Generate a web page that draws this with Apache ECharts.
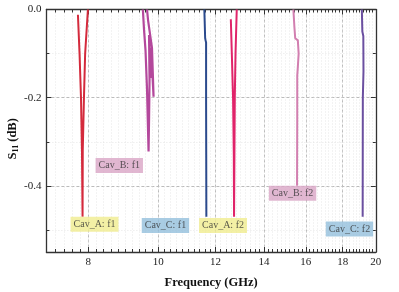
<!DOCTYPE html>
<html><head><meta charset="utf-8">
<script src="https://cdn.jsdelivr.net/npm/echarts@6/dist/echarts.min.js"></script>
<style>html,body{margin:0;padding:0;background:#fff}#c{width:399px;height:292px}</style>
</head><body><div id="c"></div>
<script>
// Tick labels
const xTickLabels = [8, 10, 12, 14, 16, 18, 20];
const yTickLabels = [0, -0.2, -0.4];
const yMinorTicks = [-0.1, -0.3, -0.5];

// Series values (frequency GHz, S11 dB)
const cavA_f1_freq = [7.74, 7.78, 7.816, 7.84, 7.855, 7.86, 7.89, 7.92, 7.99];
const cavA_f1_s11  = [-0.012, -0.1, -0.2, -0.32, -0.47, -0.32, -0.2, -0.1, 0.0];

const cavB_f1_freq = [9.52, 9.555, 9.60, 9.647, 9.694, 9.709, 9.724, 9.709, 9.756, 9.772, 9.85, 9.80, 9.678, 9.647];
const cavB_f1_s11  = [0.0, -0.046, -0.092, -0.182, -0.322, -0.25, -0.159, -0.058, -0.155, -0.087, -0.198, -0.087, -0.024, 0.0];

const cavC_f1_freq = [11.58, 11.61, 11.625, 11.645, 11.645, 11.65, 11.655];
const cavC_f1_s11  = [0.0, -0.065, -0.07, -0.075, -0.2, -0.33, -0.47];

const cavA_f2_freq = [12.60, 12.64, 12.69, 12.72, 12.73, 12.745, 12.76, 12.79, 12.84];
const cavA_f2_s11  = [-0.022, -0.1, -0.2, -0.33, -0.47, -0.33, -0.2, -0.1, 0.0];

const cavB_f2_freq = [15.38, 15.43, 15.47, 15.60, 15.64, 15.60, 15.57, 15.57, 15.56];
const cavB_f2_s11  = [0.0, -0.04, -0.065, -0.07, -0.10, -0.13, -0.15, -0.25, -0.40];

const cavC_f2_freq = [19.13, 19.16, 19.22, 19.23, 19.19, 19.18];
const cavC_f2_s11  = [0.0, -0.05, -0.06, -0.14, -0.2, -0.47];

// Annotation boxes
const noteText = ['Cav_B: f1', 'Cav_A: f1', 'Cav_C: f1', 'Cav_A: f2', 'Cav_B: f2', 'Cav_C: f2'];
const noteFreq = [8.83, 8.16, 10.23, 12.29, 15.34, 18.39];
const noteS11  = [-0.354, -0.487, -0.49, -0.49, -0.417, -0.498];
const noteBg   = ['#d9a5c5', '#f0ec8e', '#93bfdc', '#f0ec8e', '#d9a5c5', '#93bfdc'];

const xMinorTicks = [];
for (let i = 0; i <= 65; i++) xMinorTicks.push(+(7 + i * 0.2).toFixed(2));

const FONT = 'Liberation Serif';
const zip = (a, b) => a.map((v, i) => [v, b[i]]);

function xAx(pos, ticks, len, labels, split, showLine) {
  return {
    type: 'log', logBase: 10, min: 7, max: 20, position: pos, gridIndex: 0,
    axisLine: {show: showLine, onZero: false, lineStyle: {color: '#333', width: 1.3}},
    axisTick: {show: true, inside: true, length: len, customValues: ticks, lineStyle: {color: '#333', width: 1}},
    axisLabel: labels ? {show: true, customValues: labels, fontFamily: FONT, fontSize: 11, color: '#222', margin: 5, formatter: v => String(Math.round(v))} : {show: false},
    splitLine: split || {show: false},
    minorTick: {show: false}
  };
}
function yAx(pos, ticks, len, labels, split, showLine) {
  return {
    type: 'value', min: -0.55, max: 0, position: pos, gridIndex: 0,
    axisLine: {show: showLine, onZero: false, lineStyle: {color: '#333', width: 1.3}},
    axisTick: {show: true, inside: true, length: len, customValues: ticks, lineStyle: {color: '#333', width: 1}},
    axisLabel: labels ? {show: true, customValues: labels, fontFamily: FONT, fontSize: 11, color: '#222', margin: 5, formatter: v => v.toFixed(1)} : {show: false},
    splitLine: split || {show: false}
  };
}

const xAxes = [
  xAx('bottom', xTickLabels, 5, xTickLabels, {show: true, lineStyle: {color: '#aaa', type: [3, 2], width: 0.8}}, true),
  xAx('bottom', xMinorTicks, 3, null, {show: true, lineStyle: {color: '#ddd', type: [1, 2], width: 0.7}}, false),
  xAx('top', xTickLabels, 5, null, null, true),
  xAx('top', xMinorTicks, 3, null, null, false)
];
xAxes[0].name = 'Frequency (GHz)';
xAxes[0].nameLocation = 'middle';
xAxes[0].nameGap = 24;
xAxes[0].nameMoveOverlap = false;
xAxes[0].nameTextStyle = {fontFamily: FONT, fontSize: 12.5, fontWeight: 'bold', color: '#111'};

const yAxes = [
  yAx('left', yTickLabels, 5, yTickLabels, {show: true, lineStyle: {color: '#aaa', type: [3, 2], width: 0.8}}, true),
  yAx('left', yMinorTicks, 3, null, {show: true, lineStyle: {color: '#ddd', type: [1, 2], width: 0.7}}, false),
  yAx('right', yTickLabels, 5, null, null, true),
  yAx('right', yMinorTicks, 3, null, null, false)
];
yAxes[0].name = 'S{sub|11} (dB)';
yAxes[0].nameLocation = 'middle';
yAxes[0].nameGap = 26;
yAxes[0].nameMoveOverlap = false;
yAxes[0].nameTextStyle = {fontFamily: FONT, fontSize: 12.5, fontWeight: 'bold', color: '#111', padding: [0, 16, 0, 0],
  rich: {sub: {fontFamily: FONT, fontSize: 8, fontWeight: 'bold', color: '#111', verticalAlign: 'bottom', padding: [7, 0, 0, 0]}}};

function line(freq, s11, color, w) {
  return {type: 'line', xAxisIndex: 0, yAxisIndex: 0, data: zip(freq, s11), symbol: 'none',
    lineStyle: {color: color, width: w}, itemStyle: {color: color}, z: 3, animation: false};
}

const chart = echarts.init(document.getElementById('c'), null, {renderer: 'canvas'});
chart.setOption({
  animation: false,
  grid: {left: 46.4, right: 23.2, top: 9.5, bottom: 40, containLabel: false, outerBoundsMode: 'none'},
  xAxis: xAxes,
  yAxis: yAxes,
  series: [
    line(cavA_f1_freq, cavA_f1_s11, '#d42a3c', 2),
    line(cavB_f1_freq, cavB_f1_s11, '#b4489c', 2.2),
    line(cavC_f1_freq, cavC_f1_s11, '#2b4a8d', 2),
    line(cavA_f2_freq, cavA_f2_s11, '#e0246a', 2),
    line(cavB_f2_freq, cavB_f2_s11, '#d27fb0', 2),
    line(cavC_f2_freq, cavC_f2_s11, '#6b4fa0', 2),
    {
      type: 'scatter', xAxisIndex: 0, yAxisIndex: 0, symbolSize: 1, z: 5,
      itemStyle: {color: 'rgba(0,0,0,0)'},
      data: noteText.map((t, i) => ({
        value: [noteFreq[i], noteS11[i]],
        label: {show: true, position: 'inside', formatter: t, fontFamily: FONT, fontSize: 10, color: '#333',
          backgroundColor: noteBg[i], padding: [3, 3, 2, 3]}
      }))
    }
  ]
});
</script></body></html>
